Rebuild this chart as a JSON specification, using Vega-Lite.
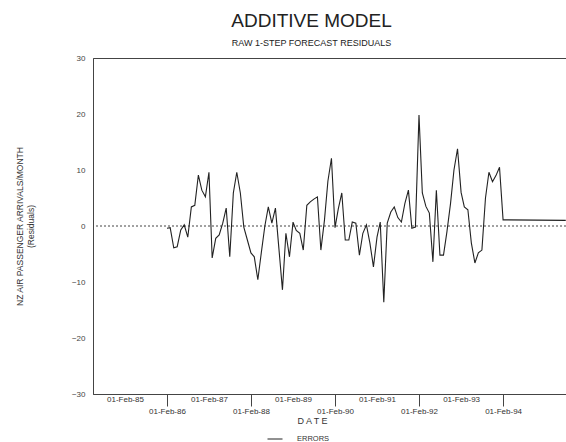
{
  "$schema": "https://vega.github.io/schema/vega-lite/v6.json",
  "width": 473,
  "height": 336,
  "autosize": "none",
  "padding": {"left": 93, "top": 58, "right": 0, "bottom": 48},
  "background": "white",
  "title": {
    "text": "ADDITIVE MODEL",
    "subtitle": "RAW 1-STEP FORECAST RESIDUALS",
    "font": "Liberation Sans",
    "fontSize": 19,
    "fontWeight": "normal",
    "color": "#222",
    "subtitleFont": "Liberation Sans",
    "subtitleFontSize": 9,
    "subtitleColor": "#222",
    "subtitlePadding": 8,
    "anchor": "middle",
    "frame": "group",
    "dx": -18,
    "offset": 6
  },
  "config": {
    "view": {"stroke": "#444", "strokeWidth": 1},
    "font": "Liberation Sans"
  },
  "data": {
    "values": [
      {"date": "1986/02/01", "v": -0.4, "series": "ERRORS"},
      {"date": "1986/03/01", "v": -0.3, "series": "ERRORS"},
      {"date": "1986/04/01", "v": -3.9, "series": "ERRORS"},
      {"date": "1986/05/01", "v": -3.7, "series": "ERRORS"},
      {"date": "1986/06/01", "v": -0.7, "series": "ERRORS"},
      {"date": "1986/07/01", "v": 0.2, "series": "ERRORS"},
      {"date": "1986/08/01", "v": -2, "series": "ERRORS"},
      {"date": "1986/09/01", "v": 3.4, "series": "ERRORS"},
      {"date": "1986/10/01", "v": 3.7, "series": "ERRORS"},
      {"date": "1986/11/01", "v": 9.1, "series": "ERRORS"},
      {"date": "1986/12/01", "v": 6.4, "series": "ERRORS"},
      {"date": "1987/01/01", "v": 5.2, "series": "ERRORS"},
      {"date": "1987/02/01", "v": 9.6, "series": "ERRORS"},
      {"date": "1987/03/01", "v": -5.7, "series": "ERRORS"},
      {"date": "1987/04/01", "v": -2.2, "series": "ERRORS"},
      {"date": "1987/05/01", "v": -1.6, "series": "ERRORS"},
      {"date": "1987/06/01", "v": 0.5, "series": "ERRORS"},
      {"date": "1987/07/01", "v": 3.2, "series": "ERRORS"},
      {"date": "1987/08/01", "v": -5.5, "series": "ERRORS"},
      {"date": "1987/09/01", "v": 5.9, "series": "ERRORS"},
      {"date": "1987/10/01", "v": 9.6, "series": "ERRORS"},
      {"date": "1987/11/01", "v": 5.9, "series": "ERRORS"},
      {"date": "1987/12/01", "v": -0.2, "series": "ERRORS"},
      {"date": "1988/01/01", "v": -2.5, "series": "ERRORS"},
      {"date": "1988/02/01", "v": -4.8, "series": "ERRORS"},
      {"date": "1988/03/01", "v": -5.5, "series": "ERRORS"},
      {"date": "1988/04/01", "v": -9.6, "series": "ERRORS"},
      {"date": "1988/05/01", "v": -4.8, "series": "ERRORS"},
      {"date": "1988/06/01", "v": 0, "series": "ERRORS"},
      {"date": "1988/07/01", "v": 3.4, "series": "ERRORS"},
      {"date": "1988/08/01", "v": 0.5, "series": "ERRORS"},
      {"date": "1988/09/01", "v": 3.2, "series": "ERRORS"},
      {"date": "1988/10/01", "v": -4, "series": "ERRORS"},
      {"date": "1988/11/01", "v": -11.4, "series": "ERRORS"},
      {"date": "1988/12/01", "v": -1.3, "series": "ERRORS"},
      {"date": "1989/01/01", "v": -5.5, "series": "ERRORS"},
      {"date": "1989/02/01", "v": 0.7, "series": "ERRORS"},
      {"date": "1989/03/01", "v": -0.8, "series": "ERRORS"},
      {"date": "1989/04/01", "v": -1.3, "series": "ERRORS"},
      {"date": "1989/05/01", "v": -4.3, "series": "ERRORS"},
      {"date": "1989/06/01", "v": 3.7, "series": "ERRORS"},
      {"date": "1989/07/01", "v": 4.3, "series": "ERRORS"},
      {"date": "1989/08/01", "v": 4.8, "series": "ERRORS"},
      {"date": "1989/09/01", "v": 5.2, "series": "ERRORS"},
      {"date": "1989/10/01", "v": -4.3, "series": "ERRORS"},
      {"date": "1989/11/01", "v": 1, "series": "ERRORS"},
      {"date": "1989/12/01", "v": 8, "series": "ERRORS"},
      {"date": "1990/01/01", "v": 12.1, "series": "ERRORS"},
      {"date": "1990/02/01", "v": -0.3, "series": "ERRORS"},
      {"date": "1990/03/01", "v": 3, "series": "ERRORS"},
      {"date": "1990/04/01", "v": 5.9, "series": "ERRORS"},
      {"date": "1990/05/01", "v": -2.5, "series": "ERRORS"},
      {"date": "1990/06/01", "v": -2.5, "series": "ERRORS"},
      {"date": "1990/07/01", "v": 0.7, "series": "ERRORS"},
      {"date": "1990/08/01", "v": 0.5, "series": "ERRORS"},
      {"date": "1990/09/01", "v": -5.2, "series": "ERRORS"},
      {"date": "1990/10/01", "v": -1.3, "series": "ERRORS"},
      {"date": "1990/11/01", "v": 0.2, "series": "ERRORS"},
      {"date": "1990/12/01", "v": -3, "series": "ERRORS"},
      {"date": "1991/01/01", "v": -7.3, "series": "ERRORS"},
      {"date": "1991/02/01", "v": -2, "series": "ERRORS"},
      {"date": "1991/03/01", "v": 0.7, "series": "ERRORS"},
      {"date": "1991/04/01", "v": -13.6, "series": "ERRORS"},
      {"date": "1991/05/01", "v": 0.5, "series": "ERRORS"},
      {"date": "1991/06/01", "v": 2.5, "series": "ERRORS"},
      {"date": "1991/07/01", "v": 3.4, "series": "ERRORS"},
      {"date": "1991/08/01", "v": 1.5, "series": "ERRORS"},
      {"date": "1991/09/01", "v": 0.7, "series": "ERRORS"},
      {"date": "1991/10/01", "v": 4, "series": "ERRORS"},
      {"date": "1991/11/01", "v": 6.4, "series": "ERRORS"},
      {"date": "1991/12/01", "v": -0.4, "series": "ERRORS"},
      {"date": "1992/01/01", "v": -0.2, "series": "ERRORS"},
      {"date": "1992/02/01", "v": 19.8, "series": "ERRORS"},
      {"date": "1992/03/01", "v": 5.9, "series": "ERRORS"},
      {"date": "1992/04/01", "v": 3.5, "series": "ERRORS"},
      {"date": "1992/05/01", "v": 2.3, "series": "ERRORS"},
      {"date": "1992/06/01", "v": -6.4, "series": "ERRORS"},
      {"date": "1992/07/01", "v": 6.4, "series": "ERRORS"},
      {"date": "1992/08/01", "v": -5.2, "series": "ERRORS"},
      {"date": "1992/09/01", "v": -5.2, "series": "ERRORS"},
      {"date": "1992/10/01", "v": -1, "series": "ERRORS"},
      {"date": "1992/11/01", "v": 4, "series": "ERRORS"},
      {"date": "1992/12/01", "v": 10, "series": "ERRORS"},
      {"date": "1993/01/01", "v": 13.8, "series": "ERRORS"},
      {"date": "1993/02/01", "v": 6, "series": "ERRORS"},
      {"date": "1993/03/01", "v": 3.4, "series": "ERRORS"},
      {"date": "1993/04/01", "v": 2.9, "series": "ERRORS"},
      {"date": "1993/05/01", "v": -3, "series": "ERRORS"},
      {"date": "1993/06/01", "v": -6.6, "series": "ERRORS"},
      {"date": "1993/07/01", "v": -4.8, "series": "ERRORS"},
      {"date": "1993/08/01", "v": -4.3, "series": "ERRORS"},
      {"date": "1993/09/01", "v": 5, "series": "ERRORS"},
      {"date": "1993/10/01", "v": 9.6, "series": "ERRORS"},
      {"date": "1993/11/01", "v": 7.9, "series": "ERRORS"},
      {"date": "1993/12/01", "v": 9, "series": "ERRORS"},
      {"date": "1994/01/01", "v": 10.5, "series": "ERRORS"},
      {"date": "1994/02/01", "v": 1.1, "series": "ERRORS"},
      {"date": "1995/07/31", "v": 1.0, "series": "ERRORS"}
    ]
  },
  "layer": [
    {
      "data": {"values": [{"zero": 0}]},
      "mark": {"type": "rule", "strokeDash": [2, 2], "color": "#444", "strokeWidth": 1},
      "encoding": {
        "y": {"field": "zero", "type": "quantitative", "scale": {"domain": [-30, 30]}}
      }
    },
    {
      "mark": {"type": "line", "strokeWidth": 1.1, "clip": true},
      "encoding": {
        "x": {
          "field": "date",
          "type": "temporal",
          "scale": {"domain": [{"year": 1984, "month": 4, "date": 29}, {"year": 1995, "month": 8, "date": 2}]},
          "axis": {
            "values": [
              {"year": 1985, "month": 2, "date": 1},
              {"year": 1986, "month": 2, "date": 1},
              {"year": 1987, "month": 2, "date": 1},
              {"year": 1988, "month": 2, "date": 1},
              {"year": 1989, "month": 2, "date": 1},
              {"year": 1990, "month": 2, "date": 1},
              {"year": 1991, "month": 2, "date": 1},
              {"year": 1992, "month": 2, "date": 1},
              {"year": 1993, "month": 2, "date": 1},
              {"year": 1994, "month": 2, "date": 1}
            ],
            "format": "%d-%b-%y",
            "grid": false,
            "domainColor": "#444",
            "tickColor": "#444",
            "tickSize": {"condition": {"test": "year(datum.value) % 2 == 0", "value": 12}, "value": 0},
            "labelFontSize": 8,
            "labelColor": "#333",
            "labelPadding": 1,
            "labelOverlap": false,
            "labelFlush": false,
            "title": "D A T E",
            "titleFontSize": 9,
            "titleFontWeight": "normal",
            "titleColor": "#333",
            "titlePadding": 1,
            "titleX": 219
          }
        },
        "y": {
          "field": "v",
          "type": "quantitative",
          "scale": {"domain": [-30, 30]},
          "axis": {
            "values": [-30, -20, -10, 0, 10, 20, 30],
            "grid": false,
            "ticks": false,
            "labelPadding": 8,
            "labelFontSize": 8,
            "labelColor": "#444",
            "domainColor": "#444",
            "title": ["NZ AIR PASSENGER ARRIVALS/MONTH", "(Residuals)"],
            "titleFontSize": 8.5,
            "titleFontWeight": "normal",
            "titleColor": "#333",
            "titlePadding": 36
          }
        },
        "color": {
          "field": "series",
          "type": "nominal",
          "scale": {"range": ["#222"]},
          "legend": {
            "orient": "none",
            "legendX": 174,
            "legendY": 373,
            "title": null,
            "symbolType": "stroke",
            "symbolSize": 225,
            "symbolStrokeWidth": 1,
            "labelFontSize": 7.5,
            "labelOffset": 14,
            "labelColor": "#333"
          }
        }
      }
    }
  ]
}
